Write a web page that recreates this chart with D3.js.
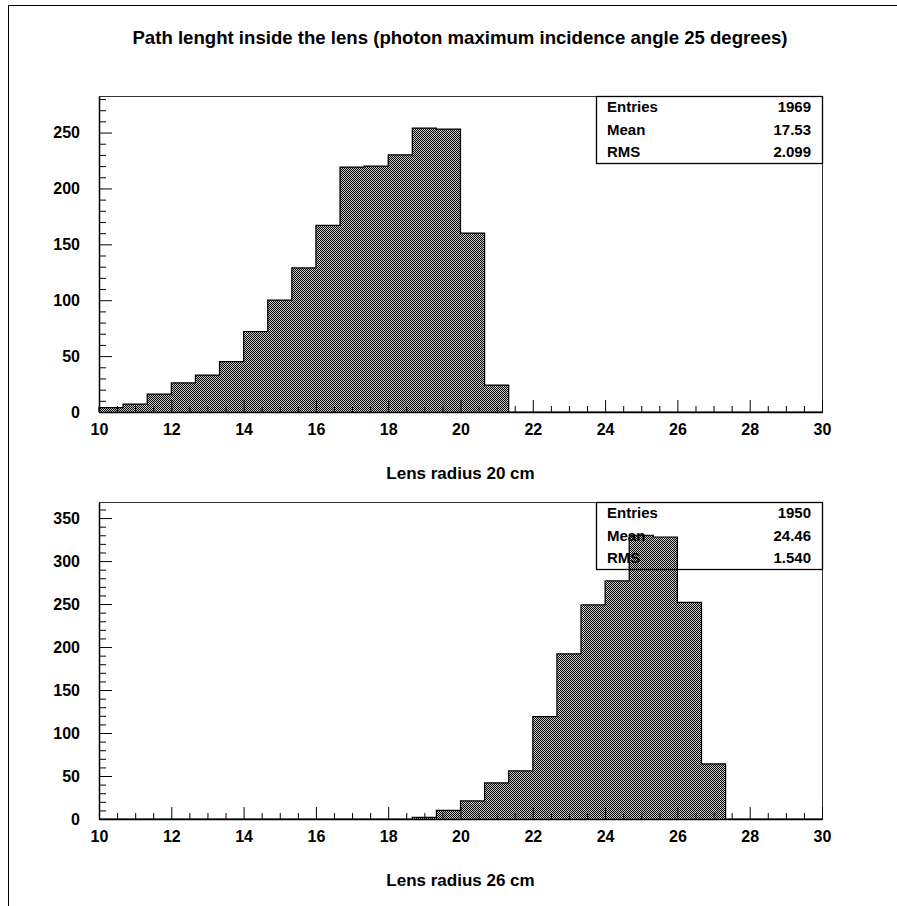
<!DOCTYPE html>
<html>
<head>
<meta charset="utf-8">
<script src="https://cdn.jsdelivr.net/npm/d3@7"></script>
<style>
  html, body { margin: 0; padding: 0; background: #fff; }
  svg text { font-family: "Liberation Sans", Arial, Helvetica, sans-serif; font-weight: bold; fill: #000; }
</style>
</head>
<body>
<svg id="c" width="897" height="906"></svg>
<script>
// Histogram binning: 30 bins between 10 and 30
const xMin = 10, xMax = 30, nBins = 30;

// Bin contents, lens radius 20 cm
const countsR20 = [4, 7, 16, 26, 33, 45, 72, 100, 129, 167, 219, 220, 230, 254, 253, 160, 24,
                   0, 0, 0, 0, 0, 0, 0, 0, 0, 0, 0, 0, 0];
// Bin contents, lens radius 26 cm
const countsR26 = [0, 0, 0, 0, 0, 0, 0, 0, 0, 0, 0, 0, 0, 2, 10, 21, 42, 56, 119, 192, 249, 277,
                   330, 328, 252, 64, 0, 0, 0, 0];

const statsR20 = [["Entries", "1969"], ["Mean", "17.53"], ["RMS", "2.099"]];
const statsR26 = [["Entries", "1950"], ["Mean", "24.46"], ["RMS", "1.540"]];

const xMajorTicks = [10, 12, 14, 16, 18, 20, 22, 24, 26, 28, 30];
const yTicksR20 = [0, 50, 100, 150, 200, 250];
const yTicksR26 = [0, 50, 100, 150, 200, 250, 300, 350];

const titleText = "Path lenght inside the lens (photon maximum incidence angle 25 degrees)";
const xTitleR20 = "Lens radius 20 cm";
const xTitleR26 = "Lens radius 26 cm";

const svg = d3.select("#c");

// checker fill used by the histograms: solid dark pixels, lightly tinted see-through gaps
const defs = svg.append("defs");
const pat = defs.append("pattern")
  .attr("id", "checker").attr("patternUnits", "userSpaceOnUse")
  .attr("width", 2).attr("height", 2);
pat.append("rect").attr("width", 2).attr("height", 2).attr("fill", "rgba(0,0,0,0.22)");
pat.append("rect").attr("x", 0).attr("y", 0).attr("width", 1).attr("height", 1).attr("fill", "#000");
pat.append("rect").attr("x", 1).attr("y", 1).attr("width", 1).attr("height", 1).attr("fill", "#000");

// canvas border (left and top)
svg.append("path").attr("d", "M8.5,906V5.5H897")
  .attr("fill", "none").attr("stroke", "#000").attr("stroke-width", 1);

// title
svg.append("text").attr("x", 460).attr("y", 44)
  .attr("text-anchor", "middle").style("font-size", "18.6px").text(titleText);

const x = d3.scaleLinear().domain([xMin, xMax]).range([99, 822]);
const binW = (xMax - xMin) / nBins;
const xMinorTicks = d3.range(0, 41).map(i => xMin + i * 0.5).filter(v => !xMajorTicks.includes(v));

function drawPad(counts, stats, yMax, yTicks, top, bottom, xTitle, xTitleY) {
  const y = d3.scaleLinear().domain([0, yMax]).range([bottom, top]);
  const g = svg.append("g");

  // frame
  g.append("rect").attr("x", x(xMin) + 0.5).attr("y", top + 0.5)
    .attr("width", x(xMax) - x(xMin)).attr("height", bottom - top)
    .attr("fill", "none").attr("stroke", "#333").attr("stroke-width", 1);

  // statistics box
  const bx0 = 596, bx1 = x(xMax), by0 = top, by1 = top + 67;
  const rowH = (by1 - by0) / stats.length;
  const sb = g.append("g");
  sb.append("rect").attr("x", bx0 + 0.5).attr("y", by0 + 0.5)
    .attr("width", bx1 - bx0).attr("height", by1 - by0)
    .attr("fill", "#fff").attr("stroke", "#000").attr("stroke-width", 1.3);
  stats.forEach((s, i) => {
    const cy = by0 + rowH * (i + 0.5) + 5;
    sb.append("text").attr("x", bx0 + 11).attr("y", cy).style("font-size", "15px").text(s[0]);
    sb.append("text").attr("x", bx1 - 11).attr("y", cy).attr("text-anchor", "end")
      .style("font-size", "15px").text(s[1]);
  });

  // bars
  const bins = counts.map((c, i) => ({ x0: xMin + i * binW, x1: xMin + (i + 1) * binW, c }));
  g.append("g").attr("shape-rendering", "crispEdges")
    .selectAll("rect").data(bins.filter(b => b.c > 0)).join("rect")
    .attr("x", d => Math.round(x(d.x0))).attr("width", d => Math.round(x(d.x1)) - Math.round(x(d.x0)))
    .attr("y", d => Math.round(y(d.c))).attr("height", d => Math.round(y(0)) - Math.round(y(d.c)))
    .attr("fill", "url(#checker)");

  // step outline
  let d = `M${x(xMin)},${y(0)}`;
  bins.forEach(b => { d += `V${y(b.c)}H${x(b.x1)}`; });
  d += `V${y(0)}`;
  g.append("path").attr("d", d).attr("fill", "none")
    .attr("stroke", "#000").attr("stroke-width", 1.2);

  // x axis
  g.append("g").attr("transform", `translate(0,${bottom})`)
    .call(d3.axisBottom(x).tickValues(xMajorTicks).tickSize(-12).tickSizeOuter(0).tickPadding(12)
      .tickFormat(d3.format("d")))
    .call(a => a.select(".domain").attr("stroke-width", 1.5))
    .call(a => a.selectAll("text").style("font-size", "16px").attr("fill", "#000"));
  g.append("g").attr("transform", `translate(0,${bottom})`)
    .call(d3.axisBottom(x).tickValues(xMinorTicks).tickSize(-6).tickFormat(""))
    .call(a => a.select(".domain").remove());

  // y axis
  const yMinor = d3.range(0, Math.floor(yMax / 10) + 1).map(i => i * 10).filter(v => v % 50 !== 0);
  g.append("g").attr("transform", `translate(${x(xMin)},0)`)
    .call(d3.axisLeft(y).tickValues(yTicks).tickSize(-13).tickSizeOuter(0).tickPadding(19)
      .tickFormat(d3.format("d")))
    .call(a => a.select(".domain").attr("stroke-width", 1.5))
    .call(a => a.selectAll("text").style("font-size", "16px").attr("fill", "#000"));
  g.append("g").attr("transform", `translate(${x(xMin)},0)`)
    .call(d3.axisLeft(y).tickValues(yMinor).tickSize(-7).tickFormat(""))
    .call(a => a.select(".domain").remove());

  // axis title
  g.append("text").attr("x", (x(xMin) + x(xMax)) / 2).attr("y", xTitleY)
    .attr("text-anchor", "middle").style("font-size", "17px").text(xTitle);
}

drawPad(countsR20, statsR20, 282.7, yTicksR20, 96, 412, xTitleR20, 479);
drawPad(countsR26, statsR26, 368.7, yTicksR26, 502, 819, xTitleR26, 886);
</script>
</body>
</html>
